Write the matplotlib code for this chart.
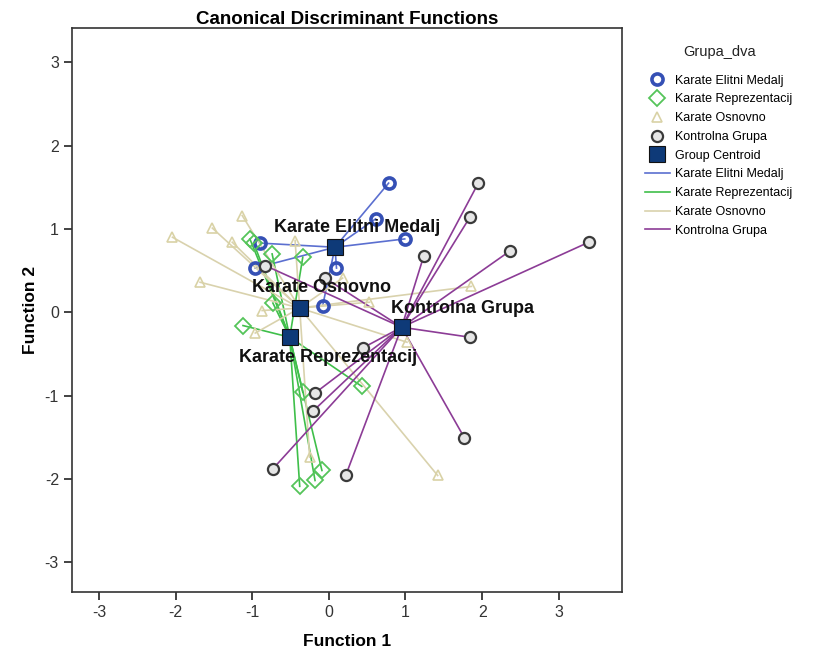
import matplotlib
matplotlib.use("Agg")
import matplotlib.pyplot as plt
from matplotlib.lines import Line2D
import numpy as np

plt.rcParams["font.family"] = ["Liberation Sans", "DejaVu Sans"]
plt.rcParams["axes.unicode_minus"] = False

# ---------- data ----------
groups = ["Karate Elitni Medalj", "Karate Reprezentacij", "Karate Osnovno", "Kontrolna Grupa"]

elitni_f1 = [0.78, 0.61, 0.99, 0.10, -0.08, -0.90, -0.96]
elitni_f2 = [1.55, 1.12, 0.88, 0.53, 0.08, 0.83, 0.53]

repr_f1 = [-1.03, -0.98, -0.74, -0.34, -0.73, -1.12, -0.34, 0.43, -0.38, -0.18, -0.09]
repr_f2 = [0.88, 0.83, 0.70, 0.66, 0.11, -0.16, -0.96, -0.89, -2.09, -2.02, -1.90]

osn_f1 = [-2.04, -1.52, -1.13, -1.26, -1.68, -0.44, 0.18, -0.87, -0.96, -0.25, 1.42, 1.86, 1.02, 0.53]
osn_f2 = [0.90, 1.01, 1.16, 0.84, 0.36, 0.86, 0.41, 0.02, -0.25, -1.74, -1.96, 0.31, -0.36, 0.12]

kontr_f1 = [1.95, 1.84, 2.37, 3.39, 1.24, 1.84, -0.83, -0.05, 0.44, -0.18, -0.21, -0.73, 0.22, 1.77]
kontr_f2 = [1.55, 1.14, 0.74, 0.84, 0.68, -0.30, 0.56, 0.41, -0.43, -0.97, -1.19, -1.88, -1.96, -1.51]

centroid_f1 = [0.08, -0.51, -0.38, 0.95]
centroid_f2 = [0.78, -0.30, 0.05, -0.18]

# label anchor positions for centroid names
label_f1 = [0.37, -0.01, -0.10, 1.74]
label_f2 = [1.02, -0.54, 0.30, 0.05]

ticks = [-3, -2, -1, 0, 1, 2, 3]

# ---------- styles ----------
line_colors = ["#5b6fd0", "#3fbf4a", "#d9d2ad", "#8c3c96"]
marker_styles = [
    dict(marker="o", ms=8, mfc="none", mec="#3550b5", mew=2.6),
    dict(marker="D", ms=8, mfc="none", mec="#55c45a", mew=1.3),
    dict(marker="^", ms=7, mfc="none", mec="#d9d2a6", mew=1.2),
    dict(marker="o", ms=8, mfc="#e6e6e6", mec="#3a3a3a", mew=1.6),
]
centroid_style = dict(marker="s", ms=12, mfc="#0e3a78", mec="#111111", mew=0.8)

pts = [(elitni_f1, elitni_f2), (repr_f1, repr_f2), (osn_f1, osn_f2), (kontr_f1, kontr_f2)]

fig = plt.figure(figsize=(8.19, 6.55), dpi=100)
ax = fig.add_axes([0.088, 0.096, 0.671, 0.861])

# lines from each case to its group centroid
for g, (fx, fy) in enumerate(pts):
    cx, cy = centroid_f1[g], centroid_f2[g]
    for x, y in zip(fx, fy):
        ax.plot([cx, x], [cy, y], color=line_colors[g], lw=1.2, zorder=2)

for g, (fx, fy) in enumerate(pts):
    ax.plot(fx, fy, linestyle="none", zorder=3, **marker_styles[g])

ax.plot(centroid_f1, centroid_f2, linestyle="none", zorder=4, **centroid_style)

for g in range(4):
    ax.text(label_f1[g], label_f2[g], groups[g], ha="center", va="center",
            fontsize=13, fontweight="bold", color="#111111", zorder=5)

ax.set_xlim(-3.35, 3.82)
ax.set_ylim(-3.36, 3.41)
ax.set_xticks(ticks)
ax.set_yticks(ticks)
ax.tick_params(direction="out", length=6, width=1.2, labelsize=11.5, colors="#222222",
               labelcolor="#333333")
for s in ax.spines.values():
    s.set_linewidth(1.2)
    s.set_color("#333333")

ax.set_xlabel("Function 1", fontsize=12.5, fontweight="bold", labelpad=10)
ax.set_ylabel("Function 2", fontsize=12.5, fontweight="bold", labelpad=5)
ax.set_title("Canonical Discriminant Functions", fontsize=13.5, fontweight="bold", pad=3)

# ---------- legend ----------
handles = []
for g in range(4):
    handles.append(Line2D([], [], linestyle="none", **marker_styles[g]))
handles.append(Line2D([], [], linestyle="none", **centroid_style))
for g in range(4):
    handles.append(Line2D([], [], color=line_colors[g], lw=1.2))
labels = groups + ["Group Centroid"] + groups

fig.text(0.879, 0.9206, "Grupa_dva", ha="center", va="center", fontsize=10.5, color="#222222")
leg = fig.legend(handles, labels, loc="upper left",
                 bbox_to_anchor=(0.787, 0.886), frameon=False, fontsize=9,
                 handlelength=2.0, handletextpad=0.4,
                 labelspacing=0.54, borderaxespad=0, borderpad=0)

fig.savefig("out.png", dpi=100)
